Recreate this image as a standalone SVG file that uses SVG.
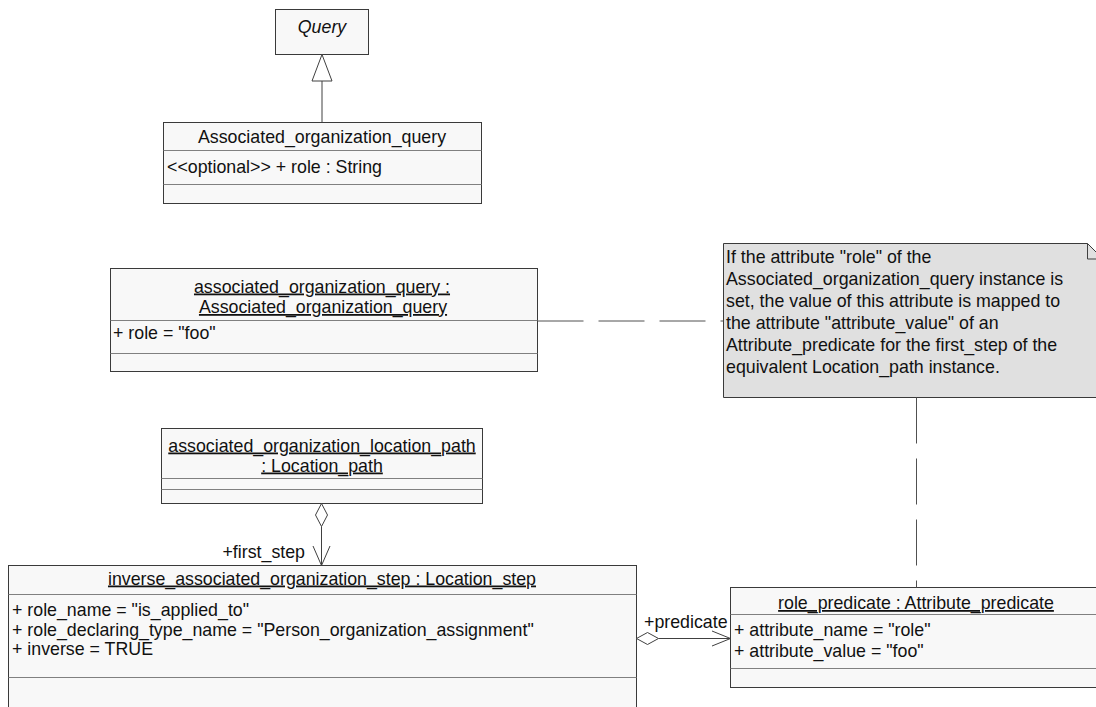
<svg xmlns="http://www.w3.org/2000/svg" width="1096" height="707" viewBox="0 0 1096 707">
<style>
text{font-family:"Liberation Sans",Arial,sans-serif;font-size:17.8px;fill:#111}
.c{text-anchor:middle}
.u{text-decoration:underline}
.it{font-style:italic}
.box{fill:#f8f8f8;stroke:#3a3a3a;stroke-width:1}
.div{stroke:#808080;stroke-width:1}
.note{fill:#e0e0e0;stroke:#3a3a3a;stroke-width:1}
.ln{fill:none;stroke:#404040;stroke-width:1}
.dash{fill:none;stroke:#505050;stroke-width:1;stroke-dasharray:46 15}
</style>
<rect width="1096" height="707" fill="#ffffff"/>
<g id="query">
<rect class="box" x="275.5" y="9.5" width="93" height="45"/>
<text class="c it" x="322" y="33">Query</text>
</g>
<g id="associated_organization_query_class">
<rect class="box" x="163.5" y="122.5" width="318" height="81"/>
<line class="div" x1="163.5" y1="150.5" x2="481.5" y2="150.5"/>
<line class="div" x1="163.5" y1="184.5" x2="481.5" y2="184.5"/>
<text class="c" x="322" y="143">Associated_organization_query</text>
<text x="167" y="172.5">&lt;&lt;optional&gt;&gt; + role : String</text>
</g>
<g id="associated_organization_query_instance">
<rect class="box" x="110.5" y="268.5" width="427" height="103"/>
<line class="div" x1="110.5" y1="320.5" x2="537.5" y2="320.5"/>
<line class="div" x1="110.5" y1="353.5" x2="537.5" y2="353.5"/>
<text class="c u" x="322" y="292.5">associated_organization_query : </text>
<text class="c u" x="323" y="313">Associated_organization_query</text>
<text x="113" y="339">+ role = "foo"</text>
</g>
<g id="note">
<path class="note" d="M723.5,243.5 H1087.5 L1103,259 V397.5 H723.5 Z"/>
<path class="ln" d="M1087.5,243.5 V259 H1103"/>
<text x="726" y="263">If the attribute "role" of the</text>
<text x="726" y="285">Associated_organization_query instance is</text>
<text x="726" y="306.5">set, the value of this attribute is mapped to</text>
<text x="726" y="329">the attribute "attribute_value" of an</text>
<text x="726" y="351">Attribute_predicate for the first_step of the</text>
<text x="726" y="372.5">equivalent Location_path instance.</text>
</g>
<g id="location_path">
<rect class="box" x="161.5" y="428.5" width="321" height="75"/>
<line class="div" x1="161.5" y1="478.5" x2="482.5" y2="478.5"/>
<line class="div" x1="161.5" y1="489.5" x2="482.5" y2="489.5"/>
<text class="c u" x="322" y="451.5">associated_organization_location_path </text>
<text class="c u" x="322" y="471.5">: Location_path</text>
</g>
<g id="location_step">
<rect class="box" x="8.5" y="565.5" width="628" height="150"/>
<line class="div" x1="8.5" y1="594.5" x2="636.5" y2="594.5"/>
<line class="div" x1="8.5" y1="677.5" x2="636.5" y2="677.5"/>
<text class="c u" x="322" y="584.5">inverse_associated_organization_step : Location_step</text>
<text x="12" y="616">+ role_name = "is_applied_to"</text>
<text x="12" y="635.5">+ role_declaring_type_name = "Person_organization_assignment"</text>
<text x="12" y="655">+ inverse = TRUE</text>
</g>
<g id="role_predicate">
<rect class="box" x="730.5" y="587.5" width="372" height="100"/>
<line class="div" x1="730.5" y1="614.5" x2="1102" y2="614.5"/>
<line class="div" x1="730.5" y1="668.5" x2="1102" y2="668.5"/>
<text class="c u" x="916" y="609">role_predicate : Attribute_predicate</text>
<text x="734" y="636">+ attribute_name = "role"</text>
<text x="734" y="657">+ attribute_value = "foo"</text>
</g>
<g id="connectors">
<path class="ln" d="M322,81 V122.5"/>
<path d="M322,54.5 L332,81 H312 Z" fill="#ffffff" stroke="#404040"/>
<path class="dash" d="M537.5,321 H723.5"/>
<path class="dash" d="M916.5,397.5 V587.5"/>
<path d="M321.5,503.5 L327.5,515 L321.5,526.5 L315.5,515 Z" fill="#ffffff" stroke="#404040"/>
<path class="ln" d="M321.5,526.5 V565.5 M313,546 L321.5,565.5 L330,546"/>
<text x="305" y="558" text-anchor="end">+first_step</text>
<path d="M636.5,638.5 L647.5,632.5 L658.5,638.5 L647.5,644.5 Z" fill="#ffffff" stroke="#404040"/>
<path class="ln" d="M658.5,638.5 H730.5 M712,631 L730.5,638.5 L712,646"/>
<text x="644" y="628">+predicate</text>
</g>
</svg>
